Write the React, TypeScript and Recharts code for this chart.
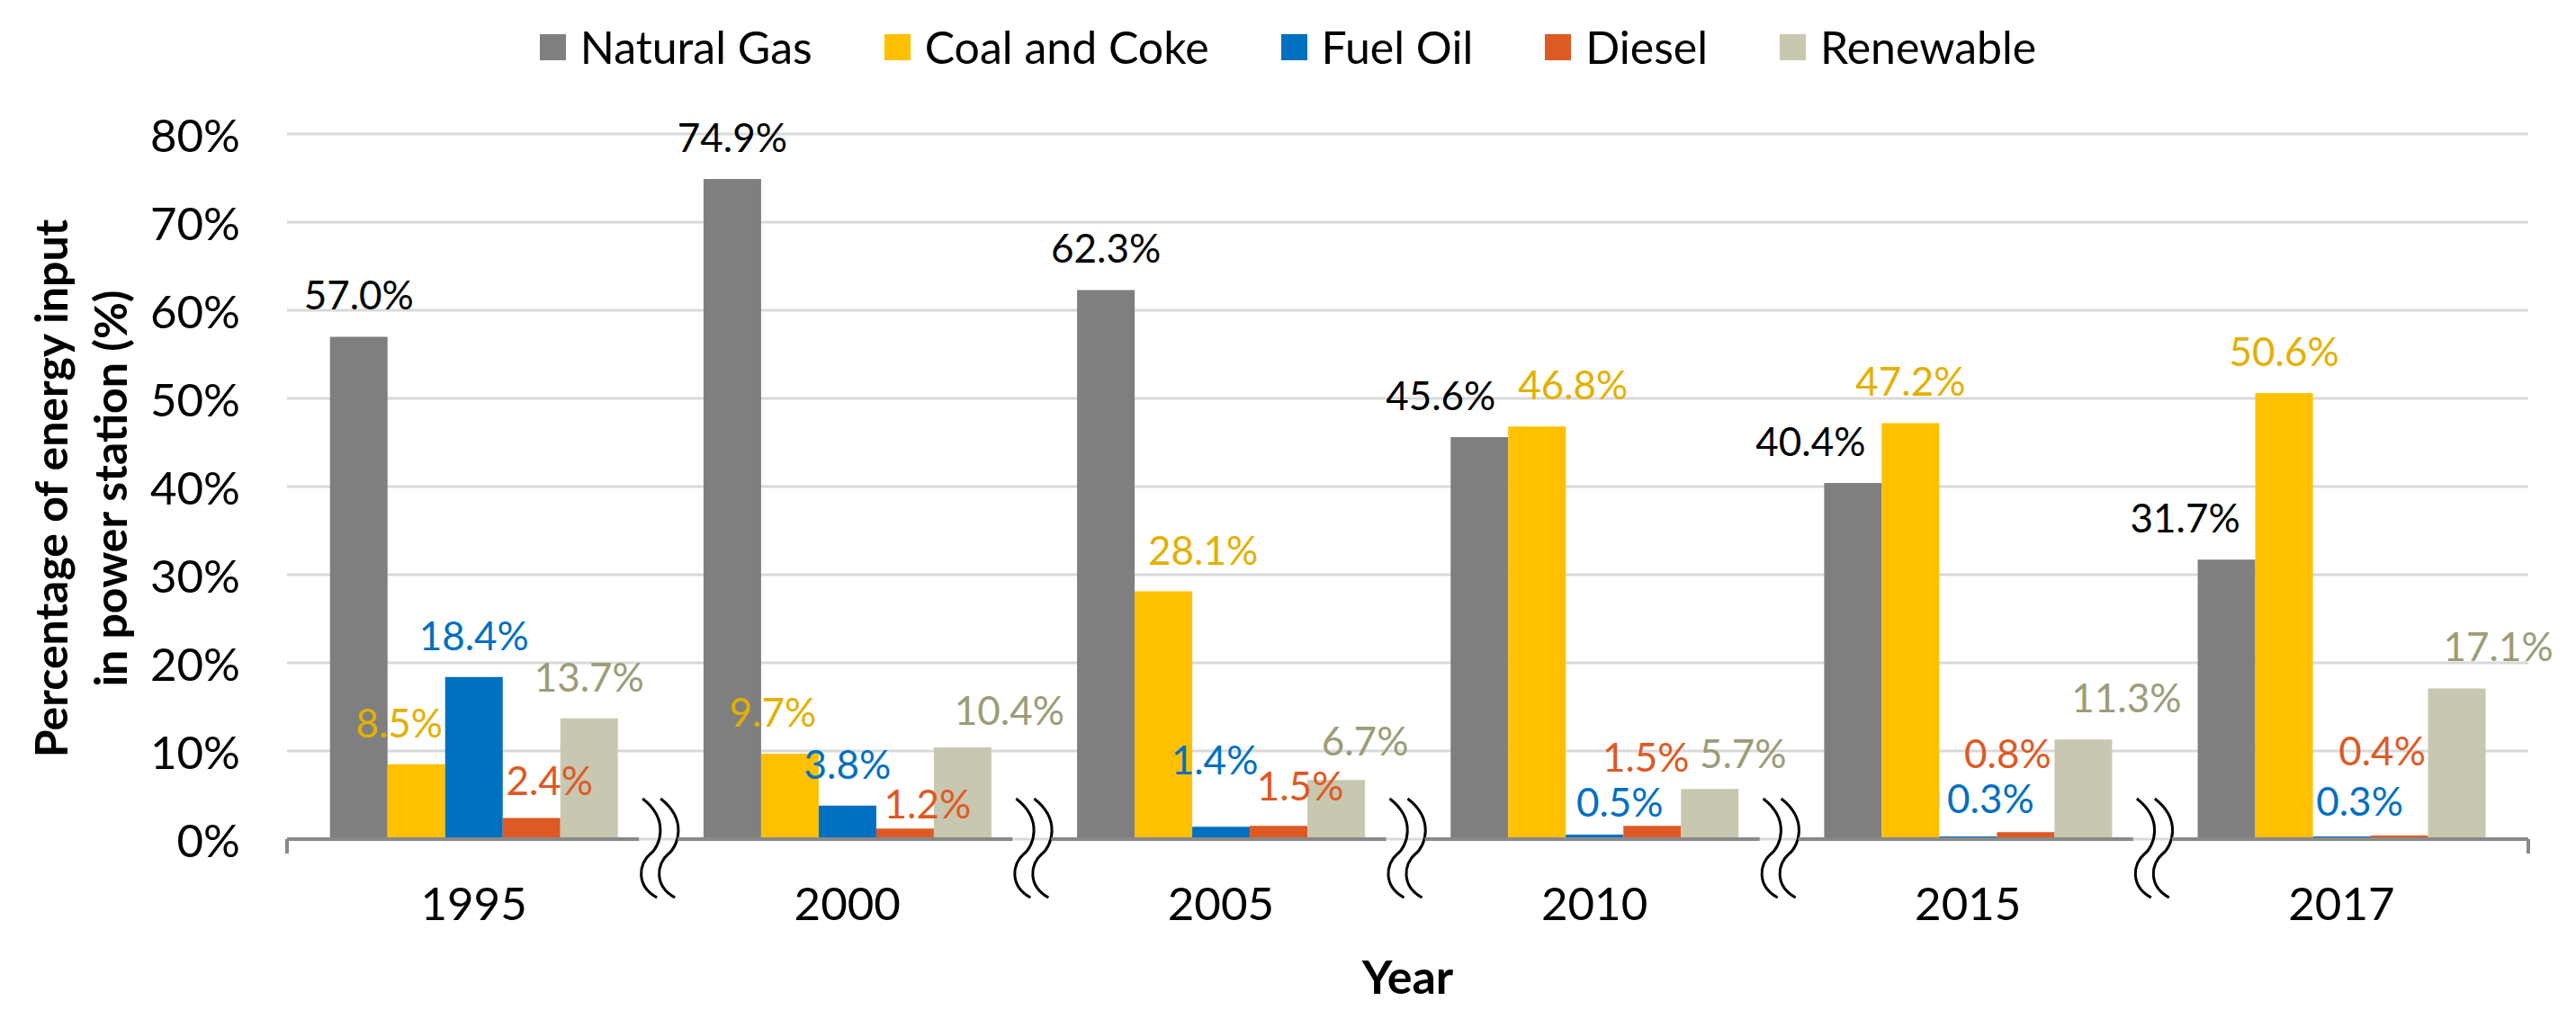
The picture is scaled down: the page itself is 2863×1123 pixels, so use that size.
import { BarChart, Bar, XAxis, YAxis, CartesianGrid, Legend, LabelList } from 'recharts';

const years = ['1995', '2000', '2005', '2010', '2015', '2017'];
const naturalGas = [57.0, 74.9, 62.3, 45.6, 40.4, 31.7];
const coalCoke = [8.5, 9.7, 28.1, 46.8, 47.2, 50.6];
const fuelOil = [18.4, 3.8, 1.4, 0.5, 0.3, 0.3];
const diesel = [2.4, 1.2, 1.5, 1.5, 0.8, 0.4];
const renewable = [13.7, 10.4, 6.7, 5.7, 11.3, 17.1];
const yTicks = [0, 10, 20, 30, 40, 50, 60, 70, 80];

const series = [
  { key: 'gas', name: 'Natural Gas', values: naturalGas, color: '#7f7f7f', label: '#000000' },
  { key: 'coal', name: 'Coal and Coke', values: coalCoke, color: '#ffc000', label: '#e3b000' },
  { key: 'oil', name: 'Fuel Oil', values: fuelOil, color: '#0070c0', label: '#0070c0' },
  { key: 'diesel', name: 'Diesel', values: diesel, color: '#dd5a24', label: '#dd5a24' },
  { key: 'ren', name: 'Renewable', values: renewable, color: '#c8c8b0', label: '#9c9c78' },
];

// hand-placed data labels in the original: [dx, extra lift] in px per year
const labelShift: Record<string, number[][]> = {
  gas: [[0, 0], [0, 0], [0, 0], [-43, 0], [-47, 0], [-46, 0]],
  coal: [[-19, 0], [-19, 0], [44, 0], [40, 0], [0, 0], [0, 0]],
  oil: [[0, 0], [0, 0], [-7, 28], [28, -10], [25, -4], [20, -7]],
  diesel: [[20, -5], [25, -19], [24, -2], [-7, 30], [-20, 41], [-19, 48]],
  ren: [[0, 0], [52, -5], [32, -3], [37, -7], [48, 0], [46, 0]],
};

const data = years.map((year, i) => {
  const row: Record<string, string | number> = { year };
  series.forEach((s) => (row[s.key] = s.values[i]));
  return row;
});

const W = 2863;
const H = 1123;
const PLOT_LEFT = 319;
const PLOT_RIGHT = 2810;
const BAND = (PLOT_RIGHT - PLOT_LEFT) / years.length;
const FONT = 'Lato, "Open Sans", sans-serif';

function BreakMark({ x, y }: { x: number; y: number }) {
  const curve = (cx: number) =>
    `M ${cx - 10} ${y - 45} C ${cx + 20} ${y - 22} ${cx + 10} ${y + 8} ${cx - 2} ${y + 17} ` +
    `C ${cx - 14} ${y + 27} ${cx - 18} ${y + 52} ${cx + 6} ${y + 65}`;
  return (
    <g fill="none" stroke="#000" strokeWidth={3}>
      <path d={curve(x - 10)} />
      <path d={curve(x + 10)} />
    </g>
  );
}

function YearTick(props: any) {
  const { x, y, payload, index } = props;
  const left = x - BAND / 2;
  const right = x + BAND / 2;
  const first = index === 0;
  const last = index === years.length - 1;
  return (
    <g>
      <line x1={first ? left : left + 19} x2={last ? right : right - 24} y1={y} y2={y} stroke="#898989" strokeWidth={4} />
      {first && <line x1={left} x2={left} y1={y} y2={y + 16} stroke="#898989" strokeWidth={4} />}
      {last && <line x1={right} x2={right} y1={y} y2={y + 16} stroke="#898989" strokeWidth={4} />}
      {!last && <BreakMark x={right} y={y} />}
      <text x={x} y={y + 90} textAnchor="middle" fill="#000" fontSize={51} fontFamily={FONT}>
        {payload.value}
      </text>
    </g>
  );
}

function PctTick(props: any) {
  const { x, y, payload } = props;
  return (
    <text x={x} y={y} textAnchor="end" dominantBaseline="central" fill="#000" fontSize={51} fontFamily={FONT}>
      {payload.value}%
    </text>
  );
}

const makeLabel = (key: string, color: string) => (props: any) => {
  const { x, y, width, value, index } = props;
  const [dx, lift] = labelShift[key][index] ?? [0, 0];
  return (
    <text x={x + width / 2 + dx} y={y - 30 - lift} textAnchor="middle" fill={color} fontSize={44} fontFamily={FONT}>
      {Number(value).toFixed(1)}%
    </text>
  );
};

function LegendBox() {
  return (
    <div style={{ height: 129, display: 'flex', justifyContent: 'center', alignItems: 'flex-start', paddingTop: 7, boxSizing: 'border-box', fontFamily: FONT }}>
      {series.map((s) => (
        <div key={s.key} style={{ display: 'flex', alignItems: 'center', margin: '0 40px', height: 50 }}>
          <div style={{ width: 29, height: 29, background: s.color, marginRight: 16 }} />
          <span style={{ fontSize: 50, color: '#000', lineHeight: 1 }}>{s.name}</span>
        </div>
      ))}
    </div>
  );
}

function YTitle(props: any) {
  const { viewBox } = props;
  const cy = 543;
  const x0 = (viewBox?.x ?? 0) + 56;
  const x1 = (viewBox?.x ?? 0) + 122;
  return (
    <g fontFamily={FONT} fontWeight={700} fontSize={50} fill="#000">
      <text x={x0} y={cy} textAnchor="middle" dominantBaseline="central" transform={`rotate(-90 ${x0} ${cy})`}>
        Percentage of energy input
      </text>
      <text x={x1} y={cy} textAnchor="middle" dominantBaseline="central" transform={`rotate(-90 ${x1} ${cy})`}>
        in power station (%)
      </text>
    </g>
  );
}

function XTitle(props: any) {
  const { viewBox } = props;
  const cx = viewBox.x + viewBox.width / 2;
  return (
    <text x={cx} y={viewBox.y + 172} textAnchor="middle" fontFamily={FONT} fontWeight={700} fontSize={52} fill="#000">
      Year
    </text>
  );
}

export default function App() {
  return (
    <div style={{ position: 'absolute', left: 0, top: 0, width: W, height: H, background: '#fff' }}>
      <BarChart
        width={W}
        height={H}
        data={data}
        margin={{ top: 20, right: W - PLOT_RIGHT, left: 0, bottom: 0 }}
        barCategoryGap="11.5%"
        barGap={0}
      >
        <Legend verticalAlign="top" content={<LegendBox />} wrapperStyle={{ left: 0, top: 20, width: W }} />
        <CartesianGrid vertical={false} stroke="#d9d9d9" strokeWidth={3} />
        <XAxis
          dataKey="year"
          height={190}
          axisLine={false}
          tickLine={false}
          tickSize={0}
          tickMargin={0}
          interval={0}
          tick={<YearTick />}
          label={<XTitle />}
        />
        <YAxis
          width={PLOT_LEFT}
          domain={[0, 80]}
          ticks={yTicks}
          axisLine={false}
          tickLine={false}
          tickSize={0}
          tickMargin={52}
          tick={<PctTick />}
          label={<YTitle />}
        />
        {series.map((s) => (
          <Bar key={s.key} dataKey={s.key} name={s.name} fill={s.color} isAnimationActive={false}>
            <LabelList dataKey={s.key} content={makeLabel(s.key, s.label)} />
          </Bar>
        ))}
      </BarChart>
    </div>
  );
}
